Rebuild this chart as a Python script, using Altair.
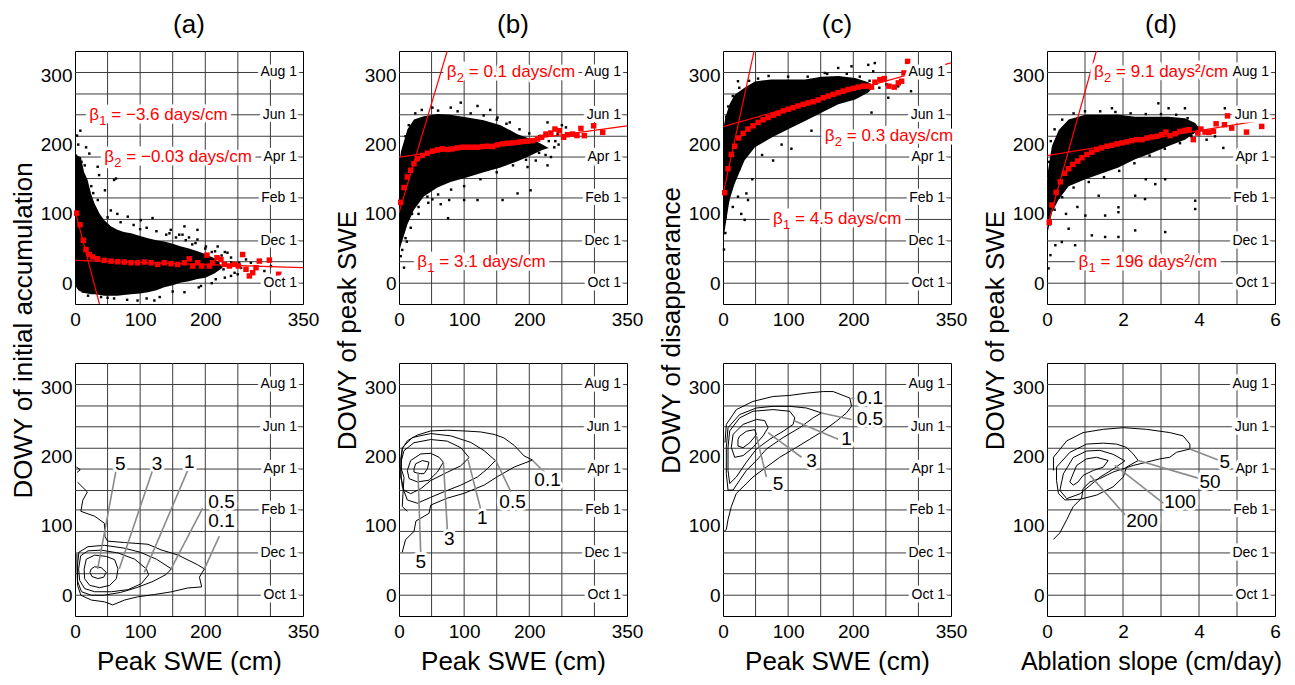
import altair as alt
import pandas as pd

FONT = "Liberation Sans"
GRID = "#3c3c3c"
RED = "#ff0000"
LEADER = "#8a8a8a"
PW, PH = 228, 253

# ---------------- shared axes data ----------------
Y_DOMAIN = [-30, 335]
Y_TICKS = [0, 100, 200, 300]
MONTH_DOWY = [0, 31, 61, 92, 123, 151, 182, 212, 243, 273, 304]
MONTH_LABEL_DOWY = [0, 61, 123, 182, 243, 304]
MONTH_LABEL_TEXT = ["Oct 1", "Dec 1", "Feb 1", "Apr 1", "Jun 1", "Aug 1"]

SWE_DOMAIN = [0, 350]
SWE_TICKS = [0, 100, 200, 350]
SWE_GRID = [50, 100, 150, 200, 250, 300]
ABL_DOMAIN = [0, 6]
ABL_TICKS = [0, 2, 4, 6]
ABL_GRID = [1, 2, 3, 4, 5]

PANEL_TITLES = ["(a)", "(b)", "(c)", "(d)"]
Y_TITLES = ["DOWY of initial accumulation", "DOWY of peak SWE",
            "DOWY of disappearance", "DOWY of peak SWE"]
X_TITLES = ["Peak SWE (cm)", "Peak SWE (cm)", "Peak SWE (cm)", "Ablation slope (cm/day)"]

# ---------------- panel (a) top ----------------
A_CLOUD_X = [0, 2, 5, 9, 14, 19, 25, 30, 38, 45, 55, 65, 75, 86, 100, 112, 125, 137, 150, 163, 175, 188, 200, 214, 226]
A_CLOUD_HI = [185, 186, 183, 182, 160, 150, 128, 115, 100, 91, 82, 77, 74, 72, 68, 65, 62, 60, 57, 53, 50, 46, 42, 36, 24]
A_CLOUD_LO = [-2, -6, -10, -12, -14, -15, -16, -16, -17, -18, -18, -18, -17, -16, -15, -13, -10, -6, -3, 1, 3, 6, 8, 14, 22]
A_SCATTER = [(8.2, 220), (3, 213), (17, 196), (22, 187), (34.8, 168), (63, 151), (46, 134), (37, 156), (60, 149),
             (81, 96), (101, 91), (119, 94), (145, 72), (147, 77), (160, 70), (165, 70), (168, 82), (188, 77),
             (188, 63), (201, 53), (219, 53), (234, 44), (239.5, 37), (252, 29.5), (262.5, 34.3), (270, 29.5),
             (290.7, 17.6), (300.9, 24.8), (121.8, -25), (96, -25), (168, -13), (193.4, -4), (216, 5.7),
             (239.5, 10.5), (249.7, 12.9), (228, 20), (210, 45), (180, 56), (130, -20), (60, -22), (40, -20),
             (175, 66), (50, 95), (70, 88), (90, 84), (110, 80), (125, 75), (140, 70), (155, 66), (170, 62),
             (185, 58), (200, 50), (215, 46), (225, 40), (240, 30), (255, 22), (245, 15), (230, 8), (210, 0),
             (190, -6), (150, -12), (110, -22), (80, -24), (50, -21), (20, -18), (12, -12), (5, 200), (10, 175),
             (15, 170), (25, 140), (28, 130), (35, 120), (55, 105), (65, 100), (100, 78), (230, 45), (220, 30)]
A_MEAN_X = [2.6, 7.7, 12.8, 16.9, 22, 27, 34.8, 45, 55.3, 65.5, 75.7, 86, 96.2, 106.4, 116.7, 127, 137, 147.4,
            157.6, 167.9, 175.5, 180.6, 188.3, 194.5, 202.7, 206.2, 211.3, 218, 224, 229.3, 237, 244.6, 250.8,
            257.4, 262.5, 267.7, 272.8, 277.9, 283, 298.4, 312.7]
A_MEAN_Y = [101, 84.3, 61.9, 48.6, 41.4, 38, 35.2, 32.9, 31.9, 31, 30.5, 29.5, 29.5, 30.5, 29.5, 27.1, 29.5, 28.1,
            27.1, 29.5, 35.2, 24.8, 29.5, 24.8, 40.5, 24.8, 29.5, 36.7, 34.3, 27.1, 24.8, 27.1, 24.8, 41.4, 20,
            10.5, 15.2, 22.4, 31.9, 33.3, 12.9]
A_FITS = [(0, 105, 37.5, -30), (0, 33, 350, 22.5)]
# (x of left edge, y, subscript, rest of text)
A_NOTES = [(22, 243, "1", "= \u22123.6 days/cm"), (45, 182, "2", "= \u22120.03 days/cm")]

# ---------------- panel (b) top ----------------
B_CLOUD_X = [0, 3, 8, 13, 23, 38, 59, 79, 105, 130, 156, 182, 197, 210, 220, 230]
B_CLOUD_HI = [168, 190, 206, 222, 236, 241, 244, 243, 239, 235, 228, 215, 210, 205, 200, 195]
B_CLOUD_LO = [44, 55, 70, 85, 106, 125, 138, 146, 153, 160, 167, 176, 182, 188, 192, 195]
B_SCATTER = [(7.7, 22.4), (2.6, 39), (75.3, 93.8), (64, 114), (43.6, 124.8), (51.3, 121), (77, 120), (100, 120),
             (120.5, 120), (159, 120), (182, 129.5), (202, 134), (94.8, 260.5), (79.4, 253.3), (51.3, 253.3),
             (120.5, 255.7), (151.2, 239), (228, 170), (233.2, 182), (238.4, 196), (228, 232), (243.5, 215.2),
             (256.3, 224.8), (210, 177), (197.3, 167.6), (30, 110), (20, 100), (12, 60), (140, 250), (170, 232),
             (240, 205), (250, 228), (10, 212), (15, 228), (25, 245), (35, 250), (60, 249), (90, 248), (110, 245),
             (130, 242), (150, 236), (165, 230), (185, 222), (200, 216), (215, 212), (230, 205), (245, 200),
             (225, 185), (215, 188), (195, 178), (175, 170), (150, 160), (125, 150), (100, 140), (80, 135),
             (60, 128), (45, 116), (30, 100), (18, 80), (10, 65), (5, 48)]
B_MEAN_X = [2.6, 7.7, 12.8, 17.9, 23, 28.2, 35.9, 43.6, 51.3, 59, 66.6, 74.3, 82, 89.7, 97.4, 105, 112.8, 120.5,
            128, 135.8, 143.5, 151.2, 158.9, 166.6, 174.3, 182, 189.6, 197.3, 205, 212.7, 218.9, 225.5, 233.2,
            239.4, 246, 252.7, 258.8, 266.5, 273.2, 279.3, 284.5, 298.8, 312.7]
B_MEAN_Y = [116.7, 138, 153.3, 162.9, 172.4, 179.5, 184.3, 187.6, 190.5, 192.4, 193.8, 192.9, 193.8, 195.2, 196.2,
            196.2, 196.2, 196.2, 197.1, 197.6, 197.1, 199.5, 201, 201.9, 202.4, 203.3, 204.3, 204.8, 205.7, 208,
            210.5, 215.2, 216.7, 222.4, 220, 210.5, 214.3, 215.2, 213, 223.3, 212.9, 227.1, 217.6]
B_FITS = [(0, 102, 74, 335), (0, 182, 350, 227)]
B_NOTES = [(73.3, 304, "2", "= 0.1 days/cm"), (28.2, 31, "1", "= 3.1 days/cm")]

# ---------------- panel (c) top ----------------
C_CLOUD_X = [0, 1, 3.6, 10, 18, 33, 49, 74, 100, 126, 151, 177, 203, 223, 230]
C_CLOUD_HI = [210, 225, 239, 258, 272, 282, 291, 294, 294, 294, 298, 299, 296, 290, 285]
C_CLOUD_LO = [53, 65, 82, 120, 144, 177, 196, 210, 222, 234, 246, 258, 265, 275, 282]
C_SCATTER = [(1.5, 48.6), (3.6, 72.4), (33.3, 91.4), (23, 124.8), (35.9, 129.5), (38.4, 120), (76.9, 177),
             (105, 194), (135.8, 220), (223, 315), (233, 317.6), (230.6, 305.7), (197.3, 312.9), (176.8, 310.5),
             (156.3, 303.3), (228, 246.2), (253.7, 267.6), (269, 284), (251, 286.7), (288.6, 277), (294.7, 308),
             (53.8, 295.2), (23, 291.4), (15, 110), (28, 100), (60, 185), (90, 200), (45, 150), (5, 240),
             (8, 255), (15, 270), (25, 282), (40, 292), (70, 299), (100, 298), (130, 298), (160, 302), (190, 302),
             (210, 298), (225, 292), (235, 288), (240, 282), (215, 276), (190, 268), (165, 258), (140, 248),
             (115, 236), (90, 224), (70, 214), (50, 200), (35, 185), (25, 165), (15, 145), (8, 120), (4, 95)]
C_MEAN_X = [2.6, 7.7, 12.8, 17.9, 24.1, 30.8, 38.4, 46.1, 53.8, 61.5, 69.2, 76.9, 84.6, 92.3, 100, 107.6, 115.3,
            123, 130.7, 138.4, 146.1, 153.8, 161.5, 169.1, 176.8, 184.5, 192.2, 199.9, 207.6, 215.3, 223, 228,
            233.2, 240.9, 247.6, 254.7, 262.9, 269.1, 274.2, 277.8, 283.4, 298.8, 313.2]
C_MEAN_Y = [130.5, 165.2, 185.7, 197.6, 209.5, 216.2, 222.4, 227.1, 231.9, 235.7, 239, 242.4, 245.2, 248.6, 251,
            253.3, 255.7, 258, 260, 261.9, 264.3, 267.6, 270, 272.4, 274.8, 277.1, 279.5, 281, 282.9, 284.3, 284.3,
            282.9, 290, 293.8, 295.2, 284.3, 282.9, 289, 291.4, 303.3, 320, 304.8, 308]
C_FITS = [(0, 128, 47.7, 335), (0, 226, 350, 318)]
C_NOTES = [(156.3, 212, "2", "= 0.3 days/cm"), (76.9, 92, "1", "= 4.5 days/cm")]

# ---------------- panel (d) top ----------------
D_CLOUD_X = [0.02, 0.13, 0.31, 0.57, 1.01, 1.36, 1.88, 2.32, 2.76, 3.2, 3.63, 3.9, 4.02]
D_CLOUD_HI = [160, 198, 221, 236, 243, 243, 243, 240, 240, 240, 238, 231, 223]
D_CLOUD_LO = [74, 102, 121, 140, 150, 157, 167, 179, 188, 198, 207, 217, 222]
D_SCATTER = [(0.04, 21.4), (0.09, 40.5), (0.22, 54.8), (0.39, 59.5), (0.74, 54.8), (0.57, 78.6), (1.18, 69),
             (1.53, 66.7), (1.88, 66.7), (2.32, 76.2), (3.11, 73.8), (1.88, 102.4), (1.88, 109.5), (1.53, 97.6),
             (1.01, 97.6), (1.36, 126.2), (2.32, 126.2), (2.58, 121.4), (2.85, 142.9), (3.11, 150), (3.90, 119),
             (3.90, 107), (1.71, 252.4), (2.93, 259.5), (3.20, 252.4), (3.63, 252.4), (4.68, 252.4), (4.64, 195.2),
             (4.20, 207), (4.42, 211.9), (0.31, 123.8), (0.8, 110), (0.5, 100), (2.6, 150), (0.05, 175),
             (0.1, 205), (0.2, 222), (0.4, 236), (0.7, 245), (1.0, 248), (1.4, 248), (1.8, 247), (2.2, 245),
             (2.6, 244), (3.0, 244), (3.4, 243), (3.7, 238), (3.95, 225), (3.8, 212), (3.5, 202), (3.1, 194),
             (2.7, 184), (2.3, 173), (1.9, 162), (1.5, 153), (1.1, 146), (0.7, 138), (0.4, 124), (0.2, 106),
             (0.08, 85)]
D_MEAN_X = [0.06, 0.13, 0.24, 0.35, 0.46, 0.57, 0.68, 0.81, 0.92, 1.05, 1.18, 1.31, 1.44, 1.58, 1.71, 1.84, 1.97,
            2.10, 2.23, 2.36, 2.50, 2.63, 2.76, 2.89, 3.02, 3.13, 3.24, 3.37, 3.50, 3.63, 3.74, 3.85, 3.97, 4.05,
            4.16, 4.26, 4.38, 4.45, 4.67, 4.75, 4.86, 5.25, 5.65]
D_MEAN_Y = [88, 112.9, 131, 146.2, 158.6, 165.2, 171.4, 176.2, 181, 185.7, 189, 192.9, 195.2, 197.6, 199, 201,
            202.4, 203.8, 205.7, 207.1, 207.1, 209.5, 211, 211.9, 214.3, 218, 212.9, 215.7, 219, 220.5, 221.4,
            207.1, 216.7, 222.4, 218, 217.6, 219, 230, 228.6, 241.4, 223.8, 218, 226.2]
D_FITS = [(0, 80, 1.30, 335), (0, 184, 6, 238)]
D_NOTES = [(1.24, 304, "2", "= 9.1 days\u00b2/cm"), (0.83, 31, "1", "= 196 days\u00b2/cm")]

# ---------------- bottom contours ----------------
A_C5 = [(25, 38), (30, 41), (40, 40), (48, 33), (44, 26), (35, 24), (26, 27), (23, 33), (25, 38)]
A_C3 = [(14, 38), (17.4, 52), (30.2, 57.8), (48.1, 56), (60.9, 51.2), (66, 38), (63.5, 23.7), (53.2, 14.2),
        (37.9, 10.9), (22.5, 14.2), (14.8, 23.7), (14, 38)]
A_C1 = [(5.6, 38), (8.7, 57), (20, 64), (40.4, 65), (66, 61), (91.6, 52), (109.5, 38), (113, 29.4), (101.8, 16.6),
        (81.4, 8), (55.8, 5), (30.2, 5), (14.8, 9.5), (7.2, 21.3), (5.6, 38)]
A_C05 = [(4, 45), (6, 62), (20, 70), (45, 72), (75, 68), (100, 62), (125, 52), (148, 38), (140, 30), (120, 20),
         (95, 11), (70, 4), (45, 0), (25, 0), (10, 5), (4, 20), (4, 45)]
A_C01 = [(4, 163), (19, 149), (12, 137), (9, 121), (30, 114), (45, 104), (46, 85), (50, 78), (76, 76), (112, 73.5),
         (132, 65.4), (158, 58), (188, 44), (198.6, 38), (191, 26), (194.5, 12), (173, 10.4), (147, 4.7),
         (122, 1), (96, -2.4), (76, -7), (58, -14), (45, -9.5), (25, -7), (9, 0), (4, 14), (3, 38), (3, 60)]
A_C01B = [(2, 185), (8, 181), (3, 177)]
A_LEADERS = [(63, 180, 34.8, 38), (119, 180, 68, 38), (173, 180, 106.4, 33), (196, 125.6, 147.4, 38),
             (221.6, 85.3, 198.6, 38)]
A_LABELS = [(69.6, 189.6, "5"), (126, 189.6, "3"), (175.5, 192, "1"), (225, 135, "0.5"), (225, 106.6, "0.1")]

B_C5 = [(23, 182), (25.6, 189.6), (35.9, 194.3), (46, 192), (43.6, 182.5), (38.4, 175.4), (30.8, 175.4),
        (23, 177.7), (23, 182)]
B_C3 = [(12.8, 180), (17.9, 194.3), (33.3, 203.8), (48.7, 204.7), (61.5, 199), (68, 192), (59, 177.7),
        (46.1, 165.9), (28.2, 163.5), (15.4, 168.2), (12.8, 180)]
B_C1 = [(3.6, 194.3), (7.7, 208.5), (23, 220), (48.7, 224.6), (74, 222.3), (94.8, 212.8), (107.6, 198.6),
        (94.8, 186.7), (74, 177.3), (48.7, 165.4), (33.3, 153.6), (17.9, 146.5), (7.7, 151.2), (2.6, 170),
        (3.6, 194.3)]
B_C05 = [(2.6, 180), (5.1, 213), (20.5, 227.5), (48.7, 233.2), (79.4, 229.9), (110.2, 220.4), (130.7, 208.5),
         (148, 194.3), (135.8, 182.5), (120.5, 170.6), (94.8, 158.8), (69.2, 149.3), (48.7, 141.2),
         (28.2, 132.7), (12.8, 137.4), (5.1, 156.4), (2.6, 180)]
B_C01 = [(5, 62), (10, 80), (23, 92), (26, 107), (46, 118), (48.7, 130), (74, 140), (100, 147), (131, 159),
         (151, 171), (177, 185), (205, 195), (192, 201), (177, 216), (161, 227), (146, 232), (125.6, 235.5),
         (100, 237), (74, 238), (48.7, 237), (28, 231), (12.8, 222.7), (5, 211), (2.6, 196.7), (3.6, 182),
         (7.7, 170), (6, 145), (5, 128), (12.8, 121)]
B_LEADERS = [(223, 177.7, 205, 194.3), (171.7, 149.3, 148.6, 194.3), (125.6, 123.2, 106, 195.3),
             (74.3, 92.4, 68.2, 191.9), (33.3, 61.6, 29.2, 177.7)]
B_LABELS = [(228, 165.9, "0.1"), (174.3, 135, "0.5"), (128, 111, "1"), (77, 80.6, "3"), (33.3, 47.4, "5")]

C_C5 = [(23, 224.6), (25.6, 229.4), (35.9, 236.5), (48.7, 238.9), (51.3, 231.8), (41, 219.9), (30.8, 212.8),
        (23, 215.2), (23, 224.6)]
C_C3 = [(12.8, 213.3), (15.4, 232), (30.8, 246.4), (51.3, 253.6), (64, 252), (69.2, 241.7), (61.5, 229.9),
        (46.1, 213.3), (30.8, 201.4), (17.9, 199), (12.8, 213.3)]
C_C1 = [(7.7, 213.3), (10.3, 237), (25.6, 255.9), (46.1, 265.4), (76.9, 267.8), (102.5, 265.4), (110.2, 255.9),
        (107.6, 246.4), (92.3, 236.5), (71.8, 225), (51.3, 210.9), (35.9, 191.9), (20.5, 170.6), (10.3, 161.1),
        (7.7, 180), (7.7, 213.3)]
C_C05 = [(5.1, 213.3), (7.7, 241.7), (25.6, 260.7), (51.3, 270.1), (76.9, 272.5), (102.5, 272.5), (128, 270.1),
         (151.2, 263), (138.4, 255.9), (117.9, 241.7), (92.3, 227.5), (66.6, 210.9), (51.3, 194.3), (35.9, 180),
         (25.6, 165.9), (15.4, 151.7), (7.7, 151.7), (5.1, 175.4), (5.1, 213.3)]
C_C01 = [(1.5, 92), (5.1, 94.8), (7.7, 109), (12.8, 127.9), (20.5, 146.9), (30.8, 156.4), (46.1, 170.6),
         (66.6, 184.8), (87.1, 199), (112.8, 213.3), (133.3, 225.1), (153.8, 237), (174.3, 251.2), (189.6, 263),
         (197.3, 272.5), (194.8, 284.4), (169, 293.8), (153.8, 293.8), (128, 291.5), (102.5, 288.2),
         (76.9, 286.7), (46.1, 279.6), (20.5, 267.8), (5.1, 246.4), (3, 220)]
C_LEADERS = [(207, 284, 197, 284), (197.3, 253.6, 151.2, 263), (176.8, 225, 110.2, 251.2),
             (120.5, 199, 69.2, 234.6), (66.6, 170.6, 51.3, 229.9)]
C_LABELS = [(225.5, 284.4, "0.1"), (225.5, 253.6, "0.5"), (189.6, 225, "1"), (135.8, 194.3, "3"), (84.6, 161, "5")]

D_C200 = [(0.60, 163.5), (0.78, 187.2), (1.04, 196.7), (1.30, 199), (1.61, 194.3), (1.48, 184.8), (1.22, 180),
          (0.95, 172.9), (0.82, 163.5), (0.69, 158.8), (0.60, 163.5)]
D_C100 = [(0.34, 151.2), (0.43, 175), (0.69, 198.6), (1.04, 208), (1.39, 209), (1.74, 203.3), (2.05, 193.8),
          (1.74, 182), (1.39, 170.1), (1.13, 158.3), (0.87, 146.4), (0.52, 139.3), (0.34, 151.2)]
D_C50 = [(0.25, 165.9), (0.25, 184.8), (0.60, 206), (1.04, 218), (1.48, 219.4), (1.83, 218), (2.09, 213.3),
         (2.27, 203.8), (2.40, 194.3), (2.09, 184.8), (2.01, 170.6), (1.74, 156.4), (1.31, 144.5), (0.87, 138.4),
         (0.47, 137.4), (0.30, 146.9), (0.25, 165.9)]
D_C5 = [(0.17, 80.6), (0.34, 90), (0.52, 109), (0.69, 128), (0.91, 139.8), (0.95, 154), (1.13, 163.5),
        (1.39, 168.2), (1.74, 177.7), (2.27, 187.2), (2.62, 191.9), (2.97, 196.7), (3.23, 199), (3.41, 206.2),
        (3.76, 210.9), (3.76, 218), (3.58, 229.9), (3.23, 234.6), (2.62, 239.3), (2.01, 241.7), (1.48, 239.3),
        (0.95, 234.6), (0.52, 222.7), (0.17, 199), (0.17, 180)]
D_LEADERS = [(4.54, 194.3, 3.76, 210.9), (4.02, 168.2, 2.40, 194.3), (3.06, 132.7, 1.79, 187.2),
             (2.09, 113.7, 1.13, 173)]
D_LABELS = [(4.68, 192, "5"), (4.29, 163.5, "50"), (3.50, 135, "100"), (2.50, 106.6, "200")]


# ---------------- helpers ----------------
def scales(xdom):
    return (alt.Scale(domain=xdom, nice=False, zero=False),
            alt.Scale(domain=Y_DOMAIN, nice=False, zero=False))


def halo_text(t):
    # same advance width as a space, but with ink so the white halo also covers word gaps
    return t.replace(" ", "I")


def enc_xy(xdom, xf="x", yf="y"):
    # no axis settings here: the axis layer carries the (explicit) axis definition
    xs, ys = scales(xdom)
    return alt.X(f"{xf}:Q", scale=xs), alt.Y(f"{yf}:Q", scale=ys)


def axis_layer(xdom, xticks, xtitle, ytitle, xtitle_size=26, xtitle_x=None):
    xs, ys = scales(xdom)
    xa = dict(values=xticks, labelFlush=False, labelOverlap=False, grid=False, ticks=False,
              domain=False, labelPadding=6, labelFontSize=19, labelColor="black", labels=True,
              orient="bottom")
    if xtitle:
        xa.update(title=xtitle, titleFontSize=xtitle_size, titleFontWeight="normal", titleY=53,
                  titleBaseline="alphabetic", titleColor="black")
        if xtitle_x is not None:
            xa.update(titleX=xtitle_x, titleAlign="center")
    else:
        xa.update(title=None)
    ya = dict(values=Y_TICKS, grid=False, ticks=False, domain=False, labelPadding=3,
              labelFontSize=19, labelColor="black", labelFlush=False, labels=True, orient="left")
    if ytitle:
        ya.update(title=ytitle, titleFontSize=26, titleFontWeight="normal", titleX=-44, titleY=279,
                  titleAngle=270, titleBaseline="alphabetic", titleAlign="center", titleColor="black")
    else:
        ya.update(title=None)
    df = pd.DataFrame({"x": xdom, "y": Y_DOMAIN})
    return alt.Chart(df).mark_point(opacity=0, size=1).encode(
        x=alt.X("x:Q", scale=xs, axis=alt.Axis(**xa)),
        y=alt.Y("y:Q", scale=ys, axis=alt.Axis(**ya)))


def frame_layers(xdom, xticks, xgrid, xtitle, ytitle, **kw):
    xe, ye = enc_xy(xdom)
    vgrid = alt.Chart(pd.DataFrame({"x": xgrid})).mark_rule(color=GRID, strokeWidth=1).encode(x=xe)
    hgrid = alt.Chart(pd.DataFrame({"y": MONTH_DOWY})).mark_rule(color=GRID, strokeWidth=1).encode(y=ye)
    return [axis_layer(xdom, xticks, xtitle, ytitle, **kw), vgrid, hgrid]


def text_layers(xdom, xs_vals, ys_vals, texts, color, size, align, dx=0, halo_w=6):
    xe, ye = enc_xy(xdom)
    df = pd.DataFrame({"x": xs_vals, "y": ys_vals, "t": texts, "h": [halo_text(t) for t in texts]})
    halo = alt.Chart(df).mark_text(align=align, baseline="middle", dx=dx, fontSize=size, font=FONT,
                                   fill="white", stroke="white", strokeWidth=halo_w,
                                   strokeJoin="round").encode(x=xe, y=ye, text="h:N")
    txt = alt.Chart(df).mark_text(align=align, baseline="middle", dx=dx, fontSize=size, font=FONT,
                                  color=color).encode(x=xe, y=ye, text="t:N")
    return [halo, txt]


def note_layers(xdom, notes):
    # beta with a lowered, smaller subscript digit, then the rest of the annotation
    xe, ye = enc_xy(xdom)
    df = pd.DataFrame({"x": [n[0] for n in notes], "y": [n[1] for n in notes],
                       "sub": [n[2] for n in notes], "rest": [n[3] for n in notes],
                       "h": ["\u03b2III" + halo_text(n[3]) for n in notes]})
    halo = alt.Chart(df).mark_text(align="left", baseline="middle", fontSize=17, font=FONT, dx=-1,
                                   fill="white", stroke="white", strokeWidth=7,
                                   strokeJoin="round").encode(x=xe, y=ye, text="h:N")
    beta = alt.Chart(df).mark_text(align="left", baseline="middle", fontSize=17, font=FONT,
                                   color=RED, text="\u03b2").encode(x=xe, y=ye)
    sub = alt.Chart(df).mark_text(align="left", baseline="middle", fontSize=13, font=FONT, dx=10, dy=6,
                                  color=RED).encode(x=xe, y=ye, text="sub:N")
    rest = alt.Chart(df).mark_text(align="left", baseline="middle", fontSize=17, font=FONT, dx=22,
                                   color=RED).encode(x=xe, y=ye, text="rest:N")
    return [halo, beta, sub, rest]


def month_layers(xdom):
    return text_layers(xdom, [xdom[1]] * len(MONTH_LABEL_DOWY), MONTH_LABEL_DOWY, MONTH_LABEL_TEXT,
                       "black", 14, "right", dx=-6, halo_w=7)


def top_panel(i, xdom, xticks, xgrid, cloud_x, cloud_hi, cloud_lo, scatter, mean_x, mean_y, fits, notes):
    xe, ye = enc_xy(xdom)
    layers = frame_layers(xdom, xticks, xgrid, None, Y_TITLES[i])
    cloud = pd.DataFrame({"x": cloud_x, "hi": cloud_hi, "lo": cloud_lo})
    xe2, ye2 = enc_xy(xdom, "x", "hi")
    layers.append(alt.Chart(cloud).mark_area(color="black", opacity=1, interpolate="linear").encode(
        x=xe2, y=ye2, y2="lo:Q"))
    pts = pd.DataFrame({"x": [p[0] for p in scatter], "y": [p[1] for p in scatter]})
    layers.append(alt.Chart(pts).mark_square(color="black", size=6, opacity=1).encode(x=xe, y=ye))
    rows = []
    for k, f in enumerate(fits):
        rows.append({"id": k, "x": f[0], "y": f[1]})
        rows.append({"id": k, "x": f[2], "y": f[3]})
    layers.append(alt.Chart(pd.DataFrame(rows)).mark_line(color=RED, strokeWidth=1.2, clip=True).encode(
        x=xe, y=ye, detail="id:N"))
    means = pd.DataFrame({"x": mean_x, "y": mean_y})
    layers.append(alt.Chart(means).mark_square(color=RED, size=30, opacity=1).encode(x=xe, y=ye))
    layers += month_layers(xdom)
    layers += note_layers(xdom, notes)
    return alt.layer(*layers).properties(
        width=PW, height=PH,
        title=alt.TitleParams(PANEL_TITLES[i], fontSize=26, fontWeight="normal", font=FONT, offset=13,
                              color="black"))


def bottom_panel(i, xdom, xticks, xgrid, contours, leaders, labels, **kw):
    xe, ye = enc_xy(xdom)
    layers = frame_layers(xdom, xticks, xgrid, X_TITLES[i], None, **kw)
    rows = []
    for cid, pts in contours:
        for k, p in enumerate(pts):
            rows.append({"id": cid, "o": k, "x": p[0], "y": p[1]})
    layers.append(alt.Chart(pd.DataFrame(rows)).mark_line(color="black", strokeWidth=1, clip=True).encode(
        x=xe, y=ye, detail="id:N", order="o:Q"))
    ld = pd.DataFrame({"x": [l[0] for l in leaders], "y": [l[1] for l in leaders],
                       "x2": [l[2] for l in leaders], "y2": [l[3] for l in leaders]})
    layers.append(alt.Chart(ld).mark_rule(color=LEADER, strokeWidth=1.6).encode(
        x=xe, y=ye, x2="x2:Q", y2="y2:Q"))
    layers += month_layers(xdom)
    layers += text_layers(xdom, [l[0] for l in labels], [l[1] for l in labels], [l[2] for l in labels],
                          "black", 19, "center")
    return alt.layer(*layers).properties(width=PW, height=PH)


panels = [
    top_panel(0, SWE_DOMAIN, SWE_TICKS, SWE_GRID, A_CLOUD_X, A_CLOUD_HI, A_CLOUD_LO, A_SCATTER,
              A_MEAN_X, A_MEAN_Y, A_FITS, A_NOTES),
    top_panel(1, SWE_DOMAIN, SWE_TICKS, SWE_GRID, B_CLOUD_X, B_CLOUD_HI, B_CLOUD_LO, B_SCATTER,
              B_MEAN_X, B_MEAN_Y, B_FITS, B_NOTES),
    top_panel(2, SWE_DOMAIN, SWE_TICKS, SWE_GRID, C_CLOUD_X, C_CLOUD_HI, C_CLOUD_LO, C_SCATTER,
              C_MEAN_X, C_MEAN_Y, C_FITS, C_NOTES),
    top_panel(3, ABL_DOMAIN, ABL_TICKS, ABL_GRID, D_CLOUD_X, D_CLOUD_HI, D_CLOUD_LO, D_SCATTER,
              D_MEAN_X, D_MEAN_Y, D_FITS, D_NOTES),
    bottom_panel(0, SWE_DOMAIN, SWE_TICKS, SWE_GRID,
                 [("0.1b", A_C01B), ("0.1", A_C01), ("0.5", A_C05), ("1", A_C1), ("3", A_C3), ("5", A_C5)],
                 A_LEADERS, A_LABELS),
    bottom_panel(1, SWE_DOMAIN, SWE_TICKS, SWE_GRID,
                 [("0.1", B_C01), ("0.5", B_C05), ("1", B_C1), ("3", B_C3), ("5", B_C5)],
                 B_LEADERS, B_LABELS),
    bottom_panel(2, SWE_DOMAIN, SWE_TICKS, SWE_GRID,
                 [("0.1", C_C01), ("0.5", C_C05), ("1", C_C1), ("3", C_C3), ("5", C_C5)],
                 C_LEADERS, C_LABELS),
    bottom_panel(3, ABL_DOMAIN, ABL_TICKS, ABL_GRID,
                 [("5", D_C5), ("50", D_C50), ("100", D_C100), ("200", D_C200)],
                 D_LEADERS, D_LABELS, xtitle_size=25, xtitle_x=104),
]

chart = alt.concat(*panels, columns=4, spacing={"row": 59, "column": 96}, bounds="flush").properties(
    padding={"left": 1, "top": 3, "right": 0, "bottom": 0}
).configure(font=FONT).configure_axis(labelFont=FONT, titleFont=FONT).configure_view(
    stroke="black", strokeWidth=1)

chart.save("out.html", embed_options={"renderer": "svg", "actions": False})
